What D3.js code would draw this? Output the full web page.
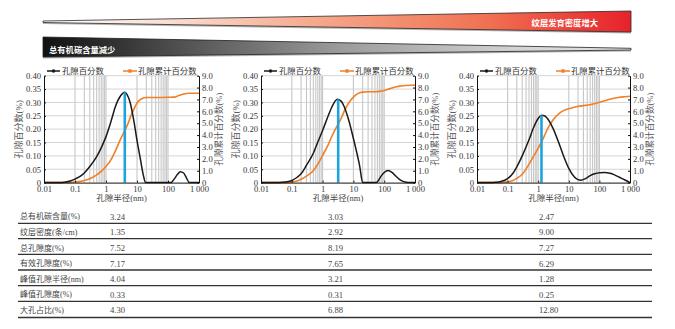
<!DOCTYPE html>
<html><head><meta charset="utf-8">
<script src="https://cdn.jsdelivr.net/npm/d3@7"></script>
<style>body{margin:0;background:#fff}svg{display:block}</style>
</head><body><svg id="c" width="675" height="329"></svg>
<script>
// ---------- DATA ----------
const radius1 = [0.01,0.03,0.05,0.07,0.1,0.15,0.2,0.3,0.5,0.7,1,1.5,2,3,4,5,6,8,10,13,16,19,30,60,100,125,160,200,250,320,400,490,700,1000];
const porosity1 = [0,0,0.002,0.006,0.013,0.024,0.036,0.060,0.097,0.130,0.172,0.235,0.284,0.326,0.338,0.325,0.300,0.228,0.158,0.085,0.028,0,0,0,0,0,0.014,0.030,0.041,0.036,0.016,0,0,0];
const cumulative1 = [0,0,0.01,0.02,0.05,0.10,0.17,0.33,0.65,0.95,1.35,2.0,2.65,3.7,4.35,4.9,5.45,6.2,6.7,7.0,7.12,7.17,7.17,7.17,7.18,7.19,7.2,7.28,7.38,7.46,7.5,7.52,7.52,7.52];

const radius2 = [0.01,0.03,0.05,0.07,0.1,0.15,0.2,0.3,0.5,0.7,1,1.5,2,3,4,5,7,10,13,16,20,30,50,60,80,100,135,180,250,350,480,700,1000];
const porosity2 = [0,0,0.001,0.003,0.008,0.020,0.033,0.065,0.110,0.152,0.195,0.248,0.283,0.312,0.305,0.285,0.235,0.165,0.110,0.062,0,0,0,0.003,0.025,0.038,0.045,0.038,0.022,0.008,0.002,0,0];
const cumulative2 = [0,0,0.01,0.02,0.05,0.14,0.28,0.55,1.0,1.55,2.3,3.15,3.9,4.8,5.4,6.0,6.7,7.2,7.45,7.56,7.62,7.65,7.65,7.66,7.7,7.76,7.86,7.97,8.07,8.13,8.17,8.19,8.19];

const radius3 = [0.01,0.03,0.04,0.06,0.1,0.15,0.2,0.3,0.5,0.7,1,1.28,1.6,2,3,5,7,10,15,20,25,35,50,70,100,150,220,300,450,600,800,1000];
const porosity3 = [0,0,0.001,0.004,0.015,0.035,0.059,0.100,0.160,0.205,0.240,0.252,0.250,0.240,0.205,0.141,0.095,0.053,0.022,0.011,0.009,0.015,0.026,0.033,0.037,0.038,0.035,0.030,0.020,0.013,0.006,0];
const cumulative3 = [0,0,0.01,0.02,0.06,0.17,0.35,0.7,1.55,2.2,2.9,3.4,3.95,4.5,5.25,5.85,6.08,6.22,6.35,6.42,6.46,6.5,6.56,6.65,6.76,6.9,7.02,7.1,7.18,7.22,7.25,7.27];

const peakRadius = [4.04, 3.21, 1.28];

const xTicks = [0.01,0.1,1,10,100,1000];
const xTickLabels = ["0.01","0.1","1","10","100","1\u2009000"];
const leftTicks = [0,0.05,0.10,0.15,0.20,0.25,0.30,0.35,0.40];
const leftTickLabels = ["0","0.05","0.10","0.15","0.20","0.25","0.30","0.35","0.40"];
const rightTicks = [0,1,2,3,4,5,6,7,8,9];
const rightTickLabels = ["0","1.0","2.0","3.0","4.0","5.0","6.0","7.0","8.0","9.0"];
const gridRadii = [0.1,0.2,0.3,0.4,0.5,0.6,0.7,0.8,0.9,1,10,20,30,40,50,60,70,80,90,100];

const legendLabels = ["孔隙百分数","孔隙累计百分数"];
const xTitle = "孔隙半径(nm)";
const yLeftTitle = "孔隙百分数(%)";
const yRightTitle = "孔隙累计百分数(%)";

const bannerTopText = "纹层发育密度增大";
const bannerBottomText = "总有机碳含量减少";

const rowLabels = ["总有机碳含量(%)","纹层密度(条/cm)","总孔隙度(%)","有效孔隙度(%)","峰值孔隙半径(nm)","峰值孔隙度(%)","大孔占比(%)"];
const sample1Values = ["3.24","1.35","7.52","7.17","4.04","0.33","4.30"];
const sample2Values = ["3.03","2.92","8.19","7.65","3.21","0.31","6.88"];
const sample3Values = ["2.47","9.00","7.27","6.29","1.28","0.25","12.80"];

// ---------- DRAW ----------
const FONT = '"Liberation Serif","Noto Sans CJK SC",serif';
const svg = d3.select('#c');
const defs = svg.append('defs');

const gTop = defs.append('linearGradient').attr('id','gTop').attr('x1','0%').attr('x2','100%');
[[0,'#ffffff'],[0.2,'#fbe0d6'],[0.45,'#f6ab8e'],[0.75,'#f17254'],[1,'#e6222a']].forEach(([o,c])=>gTop.append('stop').attr('offset',o).attr('stop-color',c));
const gBot = defs.append('linearGradient').attr('id','gBot').attr('x1','0%').attr('x2','100%');
[[0,'#111111'],[0.25,'#555555'],[0.5,'#9a9a9a'],[0.8,'#d2d2d2'],[1,'#e4e4e4']].forEach(([o,c])=>gBot.append('stop').attr('offset',o).attr('stop-color',c));

const bx0 = 43, bx1 = 631;
svg.append('polygon').attr('points',`${bx0},${22.5} ${bx1},${12.5} ${bx1},${33.5} ${bx0},${24}`).attr('fill','#b5b5b5');
svg.append('polygon').attr('points',`${bx0},21 ${bx1},11 ${bx1},32 ${bx0},22.5`).attr('fill','url(#gTop)').attr('stroke','#2a2a2a').attr('stroke-width',0.8);
svg.append('text').text(bannerTopText).attr('x',598).attr('y',22).attr('text-anchor','end').attr('dominant-baseline','central')
  .attr('fill','#fff').attr('font-weight','bold').attr('font-size',8.3).attr('font-family','"Noto Sans CJK SC",sans-serif');
svg.append('polygon').attr('points',`${bx0},38.5 ${bx1},49.8 ${bx1},51.5 ${bx0},58.5`).attr('fill','#b5b5b5');
svg.append('polygon').attr('points',`${bx0},37 ${bx1},48.3 ${bx1},50 ${bx0},57`).attr('fill','url(#gBot)').attr('stroke','#222').attr('stroke-width',0.8);
svg.append('text').text(bannerBottomText).attr('x',49).attr('y',48.5).attr('dominant-baseline','central')
  .attr('fill','#fff').attr('font-weight','bold').attr('font-size',8.3).attr('font-family','"Noto Sans CJK SC",sans-serif');

const yTop = 75.7, yBot = 182.6;
const panels = [
  {x0:44, x1:199, r:radius1, p:porosity1, c:cumulative1, peak:peakRadius[0]},
  {x0:261, x1:415, r:radius2, p:porosity2, c:cumulative2, peak:peakRadius[1]},
  {x0:477, x1:630, r:radius3, p:porosity3, c:cumulative3, peak:peakRadius[2]}
];

panels.forEach(pn => {
  const x = d3.scaleLog().domain([0.01,1000]).range([pn.x0,pn.x1]);
  const yL = d3.scaleLinear().domain([0,0.4]).range([yBot,yTop]);
  const yR = d3.scaleLinear().domain([0,9]).range([yBot,yTop]);
  const g = svg.append('g');

  g.selectAll('line.vg').data(gridRadii).join('line').attr('class','vg')
    .attr('x1',d=>x(d)).attr('x2',d=>x(d)).attr('y1',yTop).attr('y2',yBot)
    .attr('stroke','#c6c6c6').attr('stroke-width',1.1);
  g.selectAll('line.hg').data(leftTicks.filter(d=>d>0)).join('line').attr('class','hg')
    .attr('x1',pn.x0).attr('x2',pn.x1).attr('y1',d=>yL(d)).attr('y2',d=>yL(d))
    .attr('stroke','#cfcfcf').attr('stroke-width',0.9);

  const lineC = d3.line().x((d,j)=>x(pn.r[j])).y(d=>yR(d)).curve(d3.curveMonotoneX);
  const lineP = d3.line().x((d,j)=>x(pn.r[j])).y(d=>yL(d)).curve(d3.curveMonotoneX);
  g.append('path').attr('d',lineC(pn.c)).attr('fill','none').attr('stroke','#f07f25').attr('stroke-width',1.6);
  g.append('path').attr('d',lineP(pn.p)).attr('fill','none').attr('stroke','#1a1a1a').attr('stroke-width',1.5);
  const pmax = d3.max(pn.p);
  g.append('line').attr('x1',x(pn.peak)).attr('x2',x(pn.peak)).attr('y1',yL(0)).attr('y2',yL(pmax))
    .attr('stroke','#1ea3df').attr('stroke-width',2.6);

  const styleAxis = a => {
    a.select('.domain').attr('stroke','#111').attr('stroke-width',1);
    a.selectAll('.tick line').attr('stroke','#111');
    a.selectAll('.tick text').attr('font-size',8.6).attr('fill','#333').attr('font-family',FONT);
  };
  g.append('g').attr('transform',`translate(${pn.x0},0)`)
    .call(d3.axisLeft(yL).tickValues(leftTicks).tickFormat((d,i)=>leftTickLabels[i]).tickSizeInner(-2).tickSizeOuter(0).tickPadding(3))
    .call(styleAxis);
  g.append('g').attr('transform',`translate(${pn.x1},0)`)
    .call(d3.axisRight(yR).tickValues(rightTicks).tickFormat((d,i)=>rightTickLabels[i]).tickSizeInner(-2).tickSizeOuter(0).tickPadding(3))
    .call(styleAxis);
  g.append('g').attr('transform',`translate(0,${yBot})`)
    .call(d3.axisBottom(x).tickValues(xTicks).tickFormat((d,i)=>xTickLabels[i]).tickSizeInner(-2).tickSizeOuter(0).tickPadding(3))
    .call(styleAxis);

  g.append('text').text(xTitle).attr('x',(pn.x0+pn.x1)/2).attr('y',201).attr('text-anchor','middle')
    .attr('font-size',8.5).attr('fill','#444').attr('font-family',FONT);
  const cy = (yTop+yBot)/2;
  g.append('text').text(yLeftTitle).attr('transform',`translate(${pn.x0-25},${cy}) rotate(-90)`)
    .attr('text-anchor','middle').attr('dominant-baseline','central')
    .attr('font-size',9).attr('fill','#555').attr('font-family',FONT);
  g.append('text').text(yRightTitle).attr('transform',`translate(${pn.x1+19.5},${cy}) rotate(-90)`)
    .attr('text-anchor','middle').attr('dominant-baseline','central')
    .attr('font-size',8.6).attr('fill','#555').attr('font-family',FONT);

  const ly = 71;
  const leg = g.append('g');
  leg.append('line').attr('x1',pn.x0+3).attr('x2',pn.x0+16).attr('y1',ly).attr('y2',ly).attr('stroke','#1a1a1a').attr('stroke-width',1.5);
  leg.append('circle').attr('cx',pn.x0+9.5).attr('cy',ly).attr('r',1.8).attr('fill','#1a1a1a');
  leg.append('text').text(legendLabels[0]).attr('x',pn.x0+18).attr('y',ly).attr('dominant-baseline','central')
    .attr('font-size',8.4).attr('fill','#333').attr('font-family',FONT);
  leg.append('line').attr('x1',pn.x0+79).attr('x2',pn.x0+93).attr('y1',ly).attr('y2',ly).attr('stroke','#f07f25').attr('stroke-width',1.5);
  leg.append('rect').attr('x',pn.x0+84.3).attr('y',ly-1.7).attr('width',3.4).attr('height',3.4).attr('fill','#f07f25');
  leg.append('text').text(legendLabels[1]).attr('x',pn.x0+94).attr('y',ly).attr('dominant-baseline','central')
    .attr('font-size',8.4).attr('fill','#333').attr('font-family',FONT);
});

// ---------- TABLE ----------
const rowCenters = [216.7,232.3,248.2,263.8,279.3,294.6,310.2];
const rowLines = [223.3,238.6,254.4,270.0,285.7,301.4,317.5];
const colX = [110,328,539];
const columns = [sample1Values,sample2Values,sample3Values];
const tbl = svg.append('g');
tbl.selectAll('line.rl').data(rowLines).join('line').attr('class','rl')
  .attr('x1',18).attr('x2',652).attr('y1',d=>d).attr('y2',d=>d).attr('stroke','#333').attr('stroke-width',1.3);
tbl.selectAll('text.lab').data(rowLabels).join('text').attr('class','lab').text(d=>d)
  .attr('x',20).attr('y',(d,i)=>rowCenters[i]).attr('dominant-baseline','central')
  .attr('font-size',8).attr('fill','#444').attr('font-family',FONT);
columns.forEach((col,ci)=>{
  tbl.selectAll(`text.v${ci}`).data(col).join('text').attr('class',`v${ci}`).text(d=>d)
    .attr('x',colX[ci]).attr('y',(d,i)=>rowCenters[i]).attr('dominant-baseline','central')
    .attr('font-size',8.6).attr('fill','#444').attr('font-family',FONT);
});
</script></body></html>
